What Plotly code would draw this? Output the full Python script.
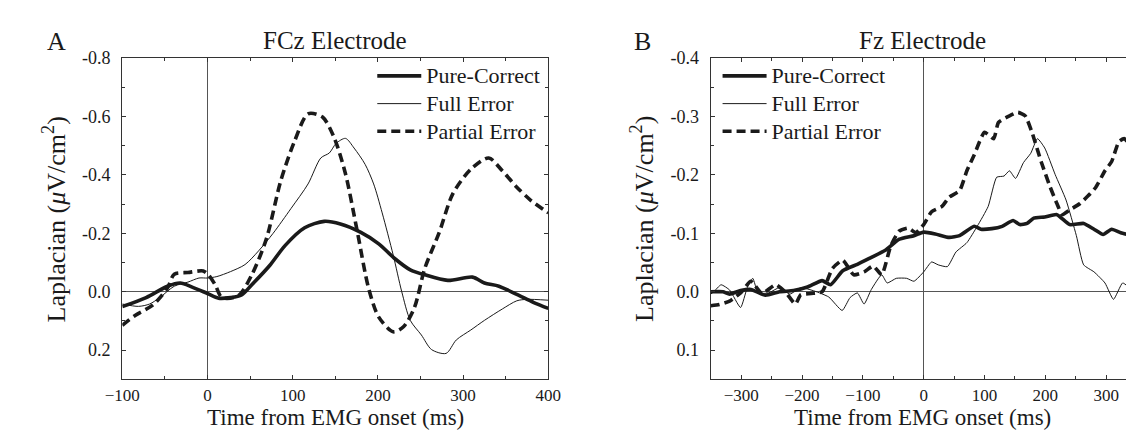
import plotly.graph_objects as go

W, H = 1134, 430

# ---------------- Panel A : FCz electrode ----------------
a_pc_t = [-100, -72, -47, -32, -18, 0, 13, 27, 40, 52, 73, 91, 114, 137, 156, 180, 201, 220, 238, 255, 282, 311, 325, 342, 363, 383, 400]
a_pc_v = [0.051, 0.02, -0.019, -0.03, -0.016, 0.006, 0.022, 0.02, 0.011, -0.024, -0.09, -0.158, -0.219, -0.241, -0.232, -0.203, -0.164, -0.113, -0.075, -0.058, -0.039, -0.05, -0.03, -0.019, 0.009, 0.037, 0.057]

a_fe_t = [-100, -81, -68, -56, -39, -23, -10, 0, 11, 27, 44, 60, 77, 98, 118, 133, 143, 151, 162, 172, 185, 195, 205, 218, 228, 238, 251, 263, 280, 292, 309, 325, 346, 363, 375, 400]
a_fe_v = [0.042, 0.05, 0.042, 0.02, -0.019, -0.033, -0.047, -0.047, -0.052, -0.069, -0.093, -0.14, -0.2, -0.285, -0.369, -0.458, -0.475, -0.508, -0.525, -0.492, -0.436, -0.369, -0.27, -0.125, 0.0, 0.098, 0.148, 0.198, 0.211, 0.165, 0.131, 0.098, 0.059, 0.031, 0.026, 0.029]

a_pe_t = [-100, -85, -64, -47, -39, -23, -5, 1, 9, 17, 36, 52, 69, 86, 102, 118, 135, 149, 162, 176, 189, 201, 218, 230, 243, 255, 272, 288, 309, 330, 346, 363, 379, 400]
a_pe_v = [0.115, 0.081, 0.045, -0.013, -0.06, -0.066, -0.071, -0.058, -0.024, 0.02, 0.014, -0.058, -0.18, -0.38, -0.514, -0.609, -0.598, -0.525, -0.403, -0.203, -0.013, 0.087, 0.137, 0.12, 0.053, -0.08, -0.203, -0.336, -0.419, -0.458, -0.414, -0.358, -0.314, -0.27]

# ---------------- Panel B : Fz electrode ----------------
b_pc_t = [-350, -330, -319, -301, -284, -260, -237, -214, -191, -167, -153, -133, -109, -86, -63, -40, -16, 0, 19, 42, 59, 83, 94, 112, 129, 147, 158, 170, 181, 199, 219, 240, 263, 280, 295, 309, 324, 338]
b_pc_v = [0.0, 0.0, 0.004, -0.002, -0.004, 0.006, 0.0, -0.002, -0.008, -0.019, -0.012, -0.036, -0.047, -0.059, -0.071, -0.09, -0.096, -0.102, -0.099, -0.093, -0.096, -0.112, -0.107, -0.108, -0.112, -0.122, -0.115, -0.117, -0.126, -0.128, -0.132, -0.115, -0.117, -0.107, -0.098, -0.107, -0.101, -0.097]

b_fe_t = [-350, -345, -333, -319, -301, -290, -281, -272, -255, -237, -220, -202, -179, -156, -134, -121, -109, -98, -86, -69, -60, -45, -28, -16, 0, 13, 24, 39, 53, 71, 88, 106, 120, 132, 141, 151, 164, 176, 187, 199, 216, 234, 251, 263, 280, 298, 312, 327, 338]
b_fe_v = [0.004, 0.0, -0.012, -0.003, 0.027, -0.007, -0.023, 0.002, 0.002, -0.007, 0.004, -0.007, -0.001, 0.009, 0.032, 0.01, 0.002, 0.021, -0.004, -0.029, -0.015, -0.023, -0.023, -0.018, -0.034, -0.051, -0.046, -0.043, -0.068, -0.084, -0.112, -0.146, -0.196, -0.198, -0.207, -0.194, -0.221, -0.237, -0.262, -0.246, -0.201, -0.157, -0.096, -0.046, -0.034, -0.015, 0.013, -0.015, -0.007]

b_pe_t = [-350, -336, -319, -301, -284, -266, -243, -226, -211, -202, -185, -167, -150, -133, -115, -98, -83, -69, -54, -40, -25, -13, 0, 13, 30, 42, 59, 71, 83, 100, 115, 123, 141, 155, 167, 178, 193, 208, 219, 228, 240, 257, 274, 283, 298, 309, 321, 330, 338]
b_pe_v = [0.024, 0.022, 0.016, 0.002, -0.018, 0.003, -0.012, 0.002, 0.021, 0.005, 0.003, 0.0, -0.04, -0.054, -0.029, -0.034, -0.044, -0.029, -0.079, -0.104, -0.109, -0.101, -0.115, -0.137, -0.146, -0.162, -0.173, -0.207, -0.234, -0.273, -0.262, -0.29, -0.301, -0.307, -0.301, -0.273, -0.223, -0.179, -0.151, -0.132, -0.14, -0.151, -0.168, -0.179, -0.207, -0.223, -0.257, -0.262, -0.251]

series_names = ["Pure-Correct", "Full Error", "Partial Error"]
a_x_ticks = [-100, 0, 100, 200, 300, 400]
a_y_ticks = [-0.8, -0.6, -0.4, -0.2, 0.0, 0.2]
a_y_text = ["-0.8", "-0.6", "-0.4", "-0.2", "0.0", "0.2"]
b_x_ticks = [-300, -200, -100, 0, 100, 200, 300]
b_y_ticks = [-0.4, -0.3, -0.2, -0.1, 0.0, 0.1]
b_y_text = ["-0.4", "-0.3", "-0.2", "-0.1", "0.0", "0.1"]

FONT = "Liberation Serif, Times New Roman, serif"
INK = "#1a1a1a"
AXC = "#333333"

styles = [
    dict(color=INK, width=3.6),
    dict(color=INK, width=1.0),
    dict(color=INK, width=3.6, dash="9px,5px"),
]

def legend_label(s):
    return '<span style="font-size:22px">' + s + '</span>'

fig = go.Figure()
for name, t, v, st in zip(series_names, [a_pc_t, a_fe_t, a_pe_t], [a_pc_v, a_fe_v, a_pe_v], styles):
    fig.add_trace(go.Scatter(x=t, y=v, mode="lines", name=legend_label(name),
                             line=dict(**st, shape="spline", smoothing=0.8),
                             xaxis="x", yaxis="y", legend="legend"))
for name, t, v, st in zip(series_names, [b_pc_t, b_fe_t, b_pe_t], [b_pc_v, b_fe_v, b_pe_v], styles):
    fig.add_trace(go.Scatter(x=t, y=v, mode="lines", name=legend_label(name),
                             line=dict(**st, shape="spline", smoothing=0.5),
                             xaxis="x2", yaxis="y2", legend="legend2"))

def fx(px):
    return px / W

def fy(py):
    return 1 - py / H

top, bot = 41, 370
ydom = [fy(bot), fy(top)]

common = dict(showgrid=False, showline=True, linecolor=AXC, linewidth=1.3,
              ticks="inside", ticklen=4, tickwidth=1, tickcolor=AXC,
              zeroline=True, zerolinecolor="#555555", zerolinewidth=1)
xfont = dict(family=FONT, size=17, color=INK)
yfont = dict(family=FONT, size=18, color=INK)

fig.update_layout(
    width=W, height=H, margin=dict(l=0, r=0, t=0, b=0),
    paper_bgcolor="white", plot_bgcolor="white",
    font=dict(family=FONT, color=INK),
    xaxis=dict(domain=[fx(99), fx(537)], range=[-100, 400], tickvals=a_x_ticks, mirror="ticks",
               ticklabelstandoff=0, tickfont=xfont,
               minor=dict(dtick=50, tick0=0, ticks="inside", ticklen=3, tickcolor=AXC), anchor="y", **common),
    yaxis=dict(domain=ydom, range=[0.3, -0.8], tickvals=a_y_ticks, ticktext=a_y_text, mirror="ticks",
               ticklabelstandoff=7, tickfont=yfont,
               minor=dict(dtick=0.1, tick0=0, ticks="inside", ticklen=3, tickcolor=AXC), anchor="x", **common),
    xaxis2=dict(domain=[fx(704), 1.0], range=[-350, 337.5], tickvals=b_x_ticks, mirror="ticks",
                ticklabelstandoff=0, tickfont=xfont,
                minor=dict(dtick=50, tick0=0, ticks="inside", ticklen=3, tickcolor=AXC), anchor="y2", **common),
    yaxis2=dict(domain=ydom, range=[0.15, -0.4], tickvals=b_y_ticks, ticktext=b_y_text, mirror=False,
                ticklabelstandoff=7, tickfont=yfont,
                minor=dict(dtick=0.05, tick0=0, ticks="inside", ticklen=3, tickcolor=AXC), anchor="x2", **common),
    legend=dict(x=fx(356), y=fy(40), xanchor="left", yanchor="top", bgcolor="rgba(0,0,0,0)",
                font=dict(family=FONT, size=19, color=INK), itemwidth=44, tracegroupgap=0),
    legend2=dict(x=fx(711), y=fy(40), xanchor="left", yanchor="top", bgcolor="rgba(0,0,0,0)",
                 font=dict(family=FONT, size=19, color=INK), itemwidth=44, tracegroupgap=0),
    showlegend=True,
)

ann = [
    dict(text="A", x=fx(31), y=fy(24), size=26),
    dict(text="B", x=fx(634), y=fy(24), size=26),
    dict(text="FCz Electrode", x=fx(318), y=fy(23), size=25),
    dict(text="Fz Electrode", x=fx(922), y=fy(23), size=25),
    dict(text="Time from EMG onset (ms)", x=fx(318), y=fy(409.5), size=23),
    dict(text="Time from EMG onset (ms)", x=fx(922), y=fy(409.5), size=23),
]
for a in ann:
    fig.add_annotation(text=a["text"], x=a["x"], y=a["y"], xref="paper", yref="paper",
                       xanchor="center", yanchor="middle", showarrow=False,
                       font=dict(family=FONT, size=a["size"], color=INK))
ytitle = "Laplacian (<i>μ</i>V/cm<sup>2</sup>)"
for xp in [29, 634]:
    fig.add_annotation(text=ytitle, x=fx(xp), y=fy(206), xref="paper", yref="paper",
                       xanchor="center", yanchor="middle", showarrow=False, textangle=-90,
                       font=dict(family=FONT, size=26, color=INK))

fig.write_html("out.html")
